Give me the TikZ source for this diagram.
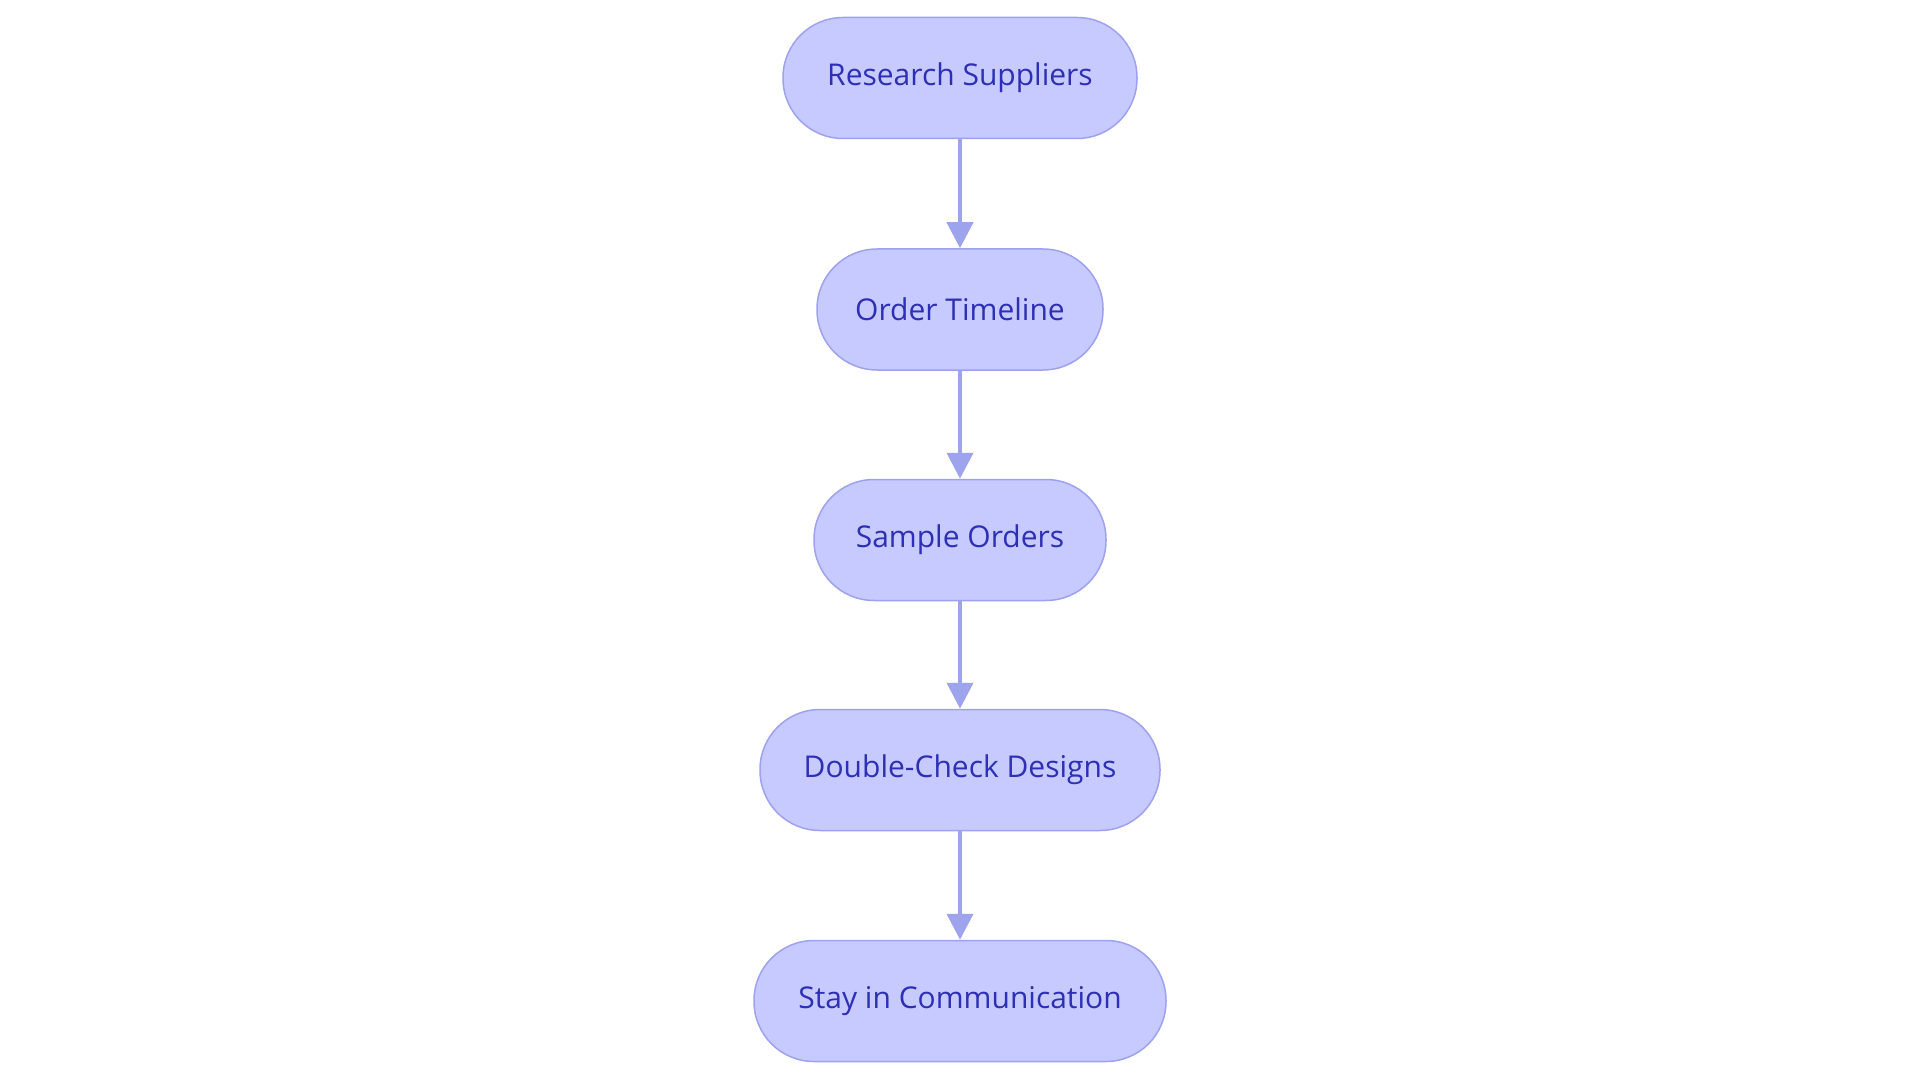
\documentclass[tikz,border=0pt]{standalone}
\usepackage{fontspec}
\setmainfont{Open Sans}
\usetikzlibrary{arrows.meta}
\definecolor{boxfill}{HTML}{C7CAFF}
\definecolor{boxline}{HTML}{9EA2EE}
\definecolor{boxtext}{HTML}{2D2FB5}
\definecolor{arrowc}{HTML}{9EA3EE}
\tikzset{
  stepbox/.style={draw=boxline, fill=boxfill, line width=1.5pt, rounded corners=60pt,
    minimum height=121pt, text=boxtext, font=\fontsize{30}{36}\selectfont, inner sep=0pt},
  flowarrow/.style={draw=arrowc, line width=4pt, -{Triangle[width=26pt,length=26pt]}, shorten >=0pt}
}
\begin{document}
\begin{tikzpicture}[x=1pt,y=1pt]
\useasboundingbox (0,0) rectangle (1920,-1083);
\node[stepbox, minimum width=354pt] (a) at (960,-78) {Research Suppliers};
\node[stepbox, minimum width=286pt] (b) at (960,-309.5) {Order Timeline};
\node[stepbox, minimum width=292pt] (c) at (960,-540) {Sample Orders};
\node[stepbox, minimum width=400pt] (d) at (960,-770) {Double-Check Designs};
\node[stepbox, minimum width=412pt] (e) at (960,-1001) {Stay in Communication};
\draw[flowarrow] (a) -- (b);
\draw[flowarrow] (b) -- (c);
\draw[flowarrow] (c) -- (d);
\draw[flowarrow] (d) -- (e);
\end{tikzpicture}
\end{document}
